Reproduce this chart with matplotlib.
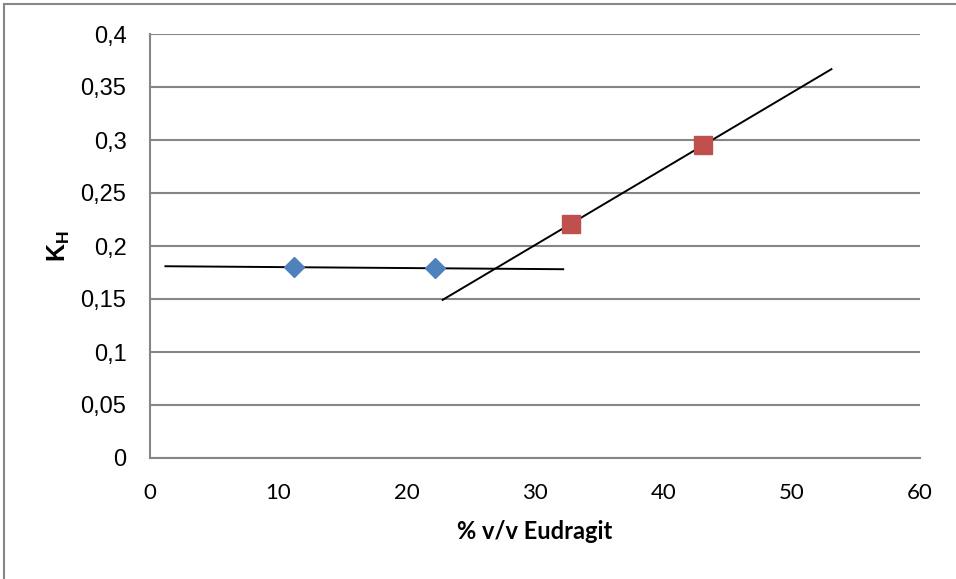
import matplotlib
matplotlib.use("Agg")
import matplotlib.pyplot as plt
import numpy as np

# Donnees
x_bleu = [11.2, 22.2]
y_bleu = [0.180, 0.179]
x_rouge = [32.8, 43.1]
y_rouge = [0.221, 0.295]
extension = 10  # prolongement des courbes de tendance (avant/arriere)

x_ticks = [0, 10, 20, 30, 40, 50, 60]
y_ticks = [0, 0.05, 0.1, 0.15, 0.2, 0.25, 0.3, 0.35, 0.4]

plt.rcParams['mathtext.fontset'] = 'custom'
plt.rcParams['mathtext.bf'] = 'Liberation Sans:bold'
plt.rcParams['mathtext.rm'] = 'Liberation Sans'

fig = plt.figure(figsize=(9.56, 5.79), dpi=100)
ax = fig.add_axes([150/956, 1 - 458/579, 770/956, 424/579])

gris = '#868686'

# Cadre exterieur (coupe a droite et en bas)
fig.patches.append(plt.Rectangle((4/956, -0.1), 1.2, 1 - 4/579 + 0.1,
                                 transform=fig.transFigure, fill=False,
                                 edgecolor=gris, linewidth=1.5))

# Courbes de tendance
for xs, ys in [(x_bleu, y_bleu), (x_rouge, y_rouge)]:
    a, b = np.polyfit(xs, ys, 1)
    xx = np.array([min(xs) - extension, max(xs) + extension])
    ax.plot(xx, a * xx + b, color='black', linewidth=1.4, zorder=3)

ax.plot(x_bleu, y_bleu, linestyle='none', marker='D', markersize=10.5,
        color='#4F81BD', zorder=4)
ax.plot(x_rouge, y_rouge, linestyle='none', marker='s', markersize=13.5,
        color='#C0504D', zorder=4)

ax.set_xlim(0, 60)
ax.set_ylim(0, 0.4)
ax.set_xticks(x_ticks)
ax.set_yticks(y_ticks)
ax.set_xticklabels([str(v) for v in x_ticks], fontname='Lato', fontsize=16)
ax.set_yticklabels([('%g' % v).replace('.', ',') for v in y_ticks],
                   fontname='Liberation Sans', fontsize=17)
ax.tick_params(axis='both', length=0)
ax.tick_params(axis='x', pad=18)
ax.tick_params(axis='y', pad=17)

ax.grid(axis='y', color=gris, linewidth=1.5)
ax.set_axisbelow(True)
for s in ['top', 'right']:
    ax.spines[s].set_visible(False)
for s in ['left', 'bottom']:
    ax.spines[s].set_color(gris)
    ax.spines[s].set_linewidth(1.5)

ax.set_xlabel('% v/v Eudragit', fontname='Lato', fontweight='bold',
              fontsize=17, labelpad=12)
ax.set_ylabel(r'$\mathbf{K_H}$', fontsize=18, labelpad=6)

fig.savefig('out.png', dpi=100, facecolor='white')
